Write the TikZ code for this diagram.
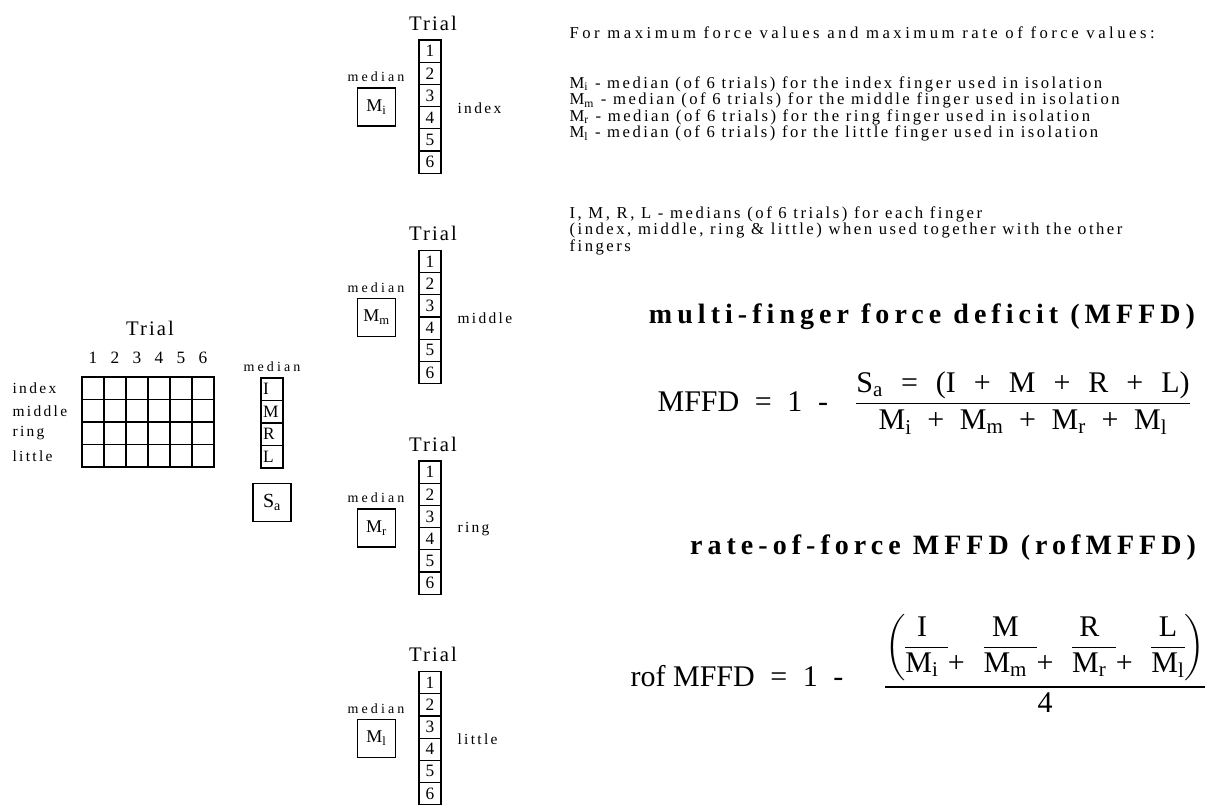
\documentclass[tikz,border=0pt]{standalone}
\usepackage{fontspec}
\usepackage{amsmath}
\usepackage{tikz}
\usetikzlibrary{positioning}
\setmainfont{Liberation Serif}
\newfontfamily\spreadfont[LetterSpace=15]{Liberation Serif}
\newfontfamily\introfont[LetterSpace=21]{Liberation Serif}
\newfontfamily\medianfont[LetterSpace=22]{Liberation Serif}
\newfontfamily\trialfont[LetterSpace=10]{Liberation Serif}
\newfontfamily\headfont[LetterSpace=18]{Liberation Serif}
\newcommand{\gp}{\hspace{0.6em}}
\newcommand{\gq}{\hspace{0.52em}}

\begin{document}
\begin{tikzpicture}[x=0.75pt, y=-0.75pt, line width=0.9pt,
  cell/.style={draw, inner sep=0pt, minimum width=16.5pt, minimum height=16.65pt, font=\fontsize{13}{14}\selectfont},
  medbox/.style={draw, inner sep=0pt, minimum width=28pt, minimum height=28.5pt, font=\fontsize{13.5}{14}\selectfont},
  lbl/.style={font=\spreadfont\fontsize{11.6}{12}\selectfont},
  medlbl/.style={font=\medianfont\fontsize{10.5}{11}\selectfont},
  trial/.style={font=\trialfont\fontsize{15.5}{16}\selectfont},
  body/.style={inner sep=0pt, align=left, font=\spreadfont\fontsize{12.5}{12.3}\selectfont},
  title/.style={font=\headfont\bfseries\fontsize{21}{22}\selectfont},
  formula/.style={inner sep=0pt, font=\fontsize{22.5}{27}\selectfont}]
  \useasboundingbox (0,0) rectangle (1213,805);

  % All trials, all fingers together
  \node[trial] (trial-all) at (150,328) {Trial};
  \foreach \c in {1,...,6}
    \node[cell, draw=none] (col-\c) at (82+22*\c-11,358) {\c};
  \foreach \r/\f in {1/index, 2/middle, 3/ring, 4/little} {
    \node[lbl, anchor=west, inner sep=0pt] (row-\f) at (12,377+22.5*\r-11.25) {\f};
    \foreach \c in {1,...,6}
      \node[cell, minimum height=16.9pt] (g-\r-\c) at (82+22*\c-11,377+22.5*\r-11.25) {};
  }

  % Medians together and their sum
  \node[medlbl] (med-all) at (272,367) {median};
  \foreach \r/\l in {1/I, 2/M, 3/R, 4/L}
    \node[cell, minimum height=16.9pt, text width=13.5pt, align=left, inner xsep=1.5pt] (F\l) at (272,378+22.5*\r-11.25) {\l};
  \node[medbox, minimum width=28.5pt, minimum height=29pt, font=\fontsize{15}{16}\selectfont] (Sa) at (272,502.5) {S\textsubscript{a}};

  % Each finger in isolation
  \foreach \k/\f/\s in {0/index/i, 1/middle/m, 2/ring/r, 3/little/l} {
    \pgfmathsetmacro{\ty}{40+210.5*\k}
    \node[trial] (trial-\f) at (433,\ty-17) {Trial};
    \foreach \n in {1,...,6}
      \node[cell] (\f-\n) at (430,\ty+22.2*\n-11.1) {\n};
    \node[medlbl] (med-\f) at (376,\ty+37) {median};
    \node[medbox] (M\s) at (376.5,\ty+67) {M\textsubscript{\s}};
    \node[lbl, anchor=west, inner sep=0pt] (lab-\f) at (457,\ty+68) {\f};
  }

  % Legend
  \node[body, font=\introfont\fontsize{12.5}{12.3}\selectfont, anchor=west] (intro) at (569,33) {For maximum force values and maximum rate of force values:};
  \node[body, anchor=north west] (isol) at (569,76) {M\textsubscript{i} - median (of 6 trials) for the index finger used in isolation\\
    M\textsubscript{m} - median (of 6 trials) for the middle finger used in isolation\\
    M\textsubscript{r} - median (of 6 trials) for the ring finger used in isolation\\
    M\textsubscript{l} - median (of 6 trials) for the little finger used in isolation};
  \node[body, anchor=north west] (together) at (569,206) {I, M, R, L - medians (of 6 trials) for each finger\\
    (index, middle, ring \& little) when used together with the other\\
    fingers};

  % MFFD
  \node[title] (head-mffd) at (922,317) {multi-finger force deficit (MFFD)};
  \node[formula, anchor=west] (lhs-mffd) at (657,402) {MFFD\gq=\gq1\gq-};
  \node[formula] (frac-mffd) at (1023,403) {$\dfrac{\text{S\textsubscript{a}\gp=\gp(I\gp+\gp M\gp+\gp R\gp+\gp L)}}{\text{M\textsubscript{i}\gq+\gq M\textsubscript{m}\gq+\gq M\textsubscript{r}\gq+\gq M\textsubscript{l}}}$};

  % rate-of-force MFFD
  \node[title] (head-rof) at (943,548) {rate-of-force MFFD (rofMFFD)};
  \node[formula, anchor=west] (lhs-rof) at (630,676) {rof MFFD\gq=\gq1\gq-};
  \node[formula] (frac-rof) at (1045,662) {$\dfrac{\left(\setlength\arrayrulewidth{0.8pt}\begin{tabular}{@{}c@{\hspace{7pt}}c@{\hspace{14pt}}c@{\hspace{7pt}}c@{\hspace{14pt}}c@{\hspace{7pt}}c@{\hspace{14pt}}c@{}}
      I && M && R && L\\ \cline{1-1}\cline{3-3}\cline{5-5}\cline{7-7}
      M\textsubscript{i} & + & M\textsubscript{m} & + & M\textsubscript{r} & + & M\textsubscript{l}
    \end{tabular}\right)}{\text{4}}$};
\end{tikzpicture}
\end{document}
